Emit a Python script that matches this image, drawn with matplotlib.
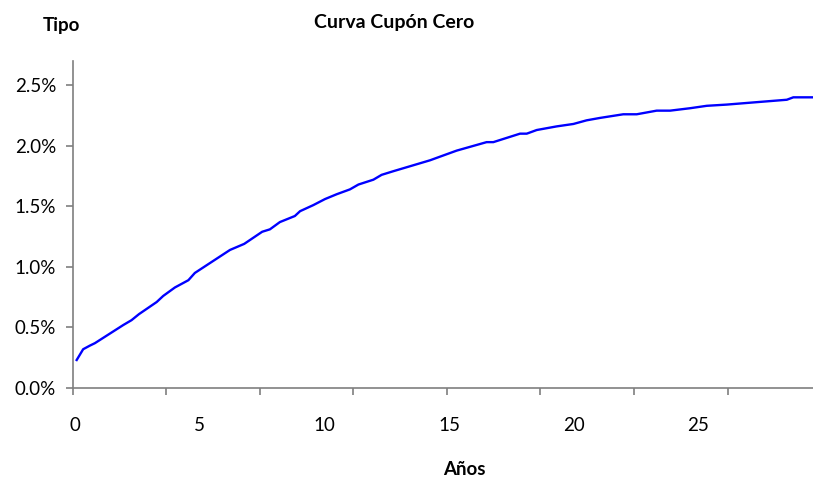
import matplotlib
matplotlib.use("Agg")
import matplotlib.pyplot as plt
from matplotlib.ticker import FixedLocator, PercentFormatter

plt.rcParams['font.family'] = ['Lato', 'DejaVu Sans']

# plazo (años) y tipo cupón cero (%)
years = [0.07, 0.33, 0.6, 0.8, 1.94, 2.27, 2.57, 3.28, 3.54, 4.01, 4.55, 4.81,
         6.22, 6.79, 7.51, 7.82, 8.22, 8.82, 9.03, 9.56, 10.03, 10.5, 11.03,
         11.37, 11.97, 12.3, 12.77, 14.24, 14.64, 15.31, 16.51, 16.78, 17.85,
         18.12, 18.52, 19.32, 19.99, 20.52, 21.06, 21.99, 22.53, 23.33, 23.87,
         24.67, 25.34, 26.14, 27.34, 28.55, 28.81, 29.6]
rates = [0.231, 0.32, 0.35, 0.37, 0.52, 0.56, 0.61, 0.71, 0.76, 0.83, 0.89, 0.95,
         1.14, 1.19, 1.29, 1.31, 1.37, 1.42, 1.46, 1.51, 1.56, 1.60, 1.64,
         1.68, 1.72, 1.76, 1.79, 1.88, 1.91, 1.96, 2.03, 2.03, 2.10,
         2.10, 2.13, 2.16, 2.18, 2.21, 2.23, 2.26, 2.26, 2.29, 2.29,
         2.31, 2.33, 2.34, 2.36, 2.38, 2.40, 2.40]

x_labels = [0, 5, 10, 15, 20, 25]
y_ticks = [0, 0.5, 1.0, 1.5, 2.0, 2.5]
x_marks = [-0.09 + 3.752 * k for k in range(8)]

fig = plt.figure(figsize=(8.13, 4.78), dpi=100)
ax = fig.add_axes([0.0894, 0.1883, 0.9106, 0.6841])

ax.plot(years, rates, color='#0000FF', lw=1.7, solid_joinstyle='round')

ax.set_xlim(-0.09, 29.6)
ax.set_ylim(0, 2.7)

for s in ['top', 'right']:
    ax.spines[s].set_visible(False)
for s in ['left', 'bottom']:
    ax.spines[s].set_color('#7f7f7f')
    ax.spines[s].set_linewidth(1.2)

ax.set_yticks(y_ticks)
ax.yaxis.set_major_formatter(PercentFormatter(decimals=1))
ax.tick_params(axis='y', direction='out', length=5, width=1.2, color='#7f7f7f',
               labelsize=13.5, pad=7)

ax.set_xticks(x_labels)
ax.tick_params(axis='x', which='major', length=0, labelsize=13.5, pad=21)
ax.xaxis.set_minor_locator(FixedLocator(x_marks))
ax.tick_params(axis='x', which='minor', direction='out', length=5, width=1.2,
               color='#7f7f7f')

fig.text(0.076, 0.947, 'Tipo', fontsize=13.5, fontweight='bold', ha='center', va='center')
fig.text(0.485, 0.952, 'Curva Cupón Cero', fontsize=14, fontweight='bold',
         ha='center', va='center')
fig.text(0.571, 0.017, 'Años', fontsize=13.5, fontweight='bold', ha='center', va='center')

fig.savefig('out.png', dpi=100)
